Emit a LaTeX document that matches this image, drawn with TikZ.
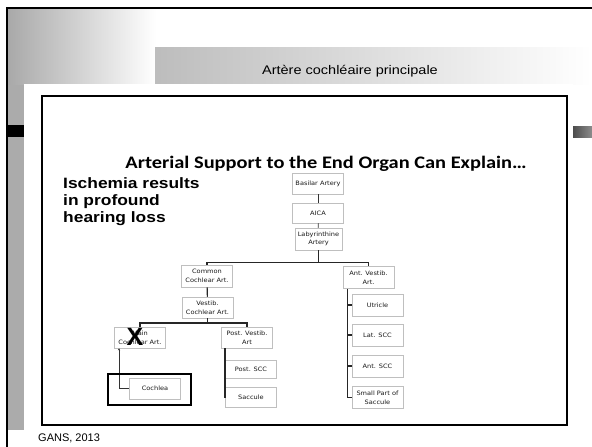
\documentclass[tikz,border=0pt]{standalone}
\usepackage{fontspec}
\newfontfamily\arial{Liberation Sans}
\newfontfamily\arialw[FakeStretch=1.16]{Liberation Sans}
\newfontfamily\calib[FakeStretch=1.16]{Carlito}
\newfontfamily\verd[FakeStretch=1.1]{DejaVu Sans}
\usetikzlibrary{shadows,arrows.meta}
\begin{document}
\begin{tikzpicture}[x=1pt,y=-1pt,
  abox/.style={draw=black!25, fill=white, line width=0.5pt, minimum width=51pt, minimum height=21pt,
    inner sep=1pt, align=center, font=\verd\fontsize{6}{8.6}\selectfont, text=black!90,
    drop shadow={shadow xshift=0.8pt, shadow yshift=-0.9pt, opacity=0.35}},
  link/.style={line width=1.1pt, black!85},
  thinlink/.style={line width=0.8pt, black!80}]
\useasboundingbox (0,0) rectangle (592,447);
\fill[white] (0,0) rectangle (592,447);
% slide background
\shade[left color=black!34, right color=white] (7,8) rectangle (156,85);
\fill[black!33] (7,85) rectangle (24,430);
\shade[left color=black!26, right color=white] (155,47) rectangle (592,84);
\fill[white] (24,84) rectangle (573,447);
\fill[black] (7,125) rectangle (24,137);
\shade[left color=black!70, right color=black!45] (573,126) rectangle (592,137);
\draw[line width=2pt] (7,447) -- (7,8) -- (592,8);
\node[font=\arialw\fontsize{12.5}{14}\selectfont, anchor=base, inner sep=0] (band) at (350,74) {Artère cochléaire principale};
% panel frame
\draw[line width=2.5pt] (42,96) rectangle (567,425);
\node[font=\arial\fontsize{11}{13}\selectfont, anchor=base west, inner sep=0] (gans) at (38,441) {GANS, 2013};
% titles
\node[font=\calib\bfseries\fontsize{17.6}{19}\selectfont, anchor=base, inner sep=0] (title) at (326,168) {Arterial Support to the End Organ Can Explain\dots};
\node[font=\arialw\bfseries\fontsize{15}{17}\selectfont, anchor=base west, inner sep=0] (l1) at (63,188) {Ischemia results};
\node[font=\arialw\bfseries\fontsize{15}{17}\selectfont, anchor=base west, inner sep=0] (l2) at (63,205) {in profound};
\node[font=\arialw\bfseries\fontsize{15}{17}\selectfont, anchor=base west, inner sep=0] (l3) at (63,222) {hearing loss};
% boxes
\node[abox] (bas) at (318,183.5) {Basilar Artery};
\node[abox, minimum height=20pt] (aica) at (318,213) {AICA};
\node[abox, minimum width=47pt, minimum height=22pt] (lab) at (318.5,239) {Labyrinthine\\Artery};
\node[abox, minimum height=22pt] (com) at (207,276) {Common\\Cochlear Art.};
\node[abox, minimum height=21pt] (vc) at (207.5,307.5) {Vestib.\\Cochlear Art.};
\node[abox] (main) at (140,337.5) {Main\\Cochlear Art.};
\node[abox] (pv) at (247,337.5) {Post. Vestib.\\Art};
\node[abox, minimum height=18pt] (psc) at (251,369) {Post. SCC};
\node[abox, minimum height=20pt] (sac) at (251,397) {Saccule};
\node[abox] (coch) at (155,388.5) {Cochlea};
\node[abox, minimum height=22pt] (ant) at (368.5,277.5) {Ant. Vestib.\\Art.};
\node[abox, minimum height=22pt] (utr) at (377.5,305) {Utricle};
\node[abox, minimum height=22pt] (lat) at (377.5,335) {Lat. SCC};
\node[abox, minimum height=22pt] (asc) at (377.5,366) {Ant. SCC};
\node[abox, minimum height=22pt] (spart) at (377.5,397.5) {Small Part of\\Saccule};
% connectors
\draw[thinlink] (bas) -- (aica);
\draw[thinlink] (aica) -- (lab);
\coordinate (j1) at (318.5,262.5);
\draw[link] (lab.south) -- (j1);
\draw[link] (com.north) |- (j1) -| (ant.north);
\draw[link] (com) -- (vc);
\coordinate (j2) at (207.5,323);
\draw[link] (vc.south) -- (j2);
\draw[link] (main.north) |- (j2) -| (pv.north);
\draw[thinlink, {Stealth[length=2.2pt,width=2.2pt]}-] ([xshift=-21pt]main.south) |- (coch.west);
\coordinate (pvsp) at ([xshift=-22pt]pv.south);
\draw[link] (pvsp) |- (sac.west);
\draw[link] (psc.west) -- (psc.west -| pvsp);
\coordinate (antsp) at ([xshift=-21pt]ant.south);
\draw[link] (antsp) |- (spart.west);
\draw[link] (utr.west) -- (utr.west -| antsp);
\draw[link] (lat.west) -- (lat.west -| antsp);
\draw[link] (asc.west) -- (asc.west -| antsp);
% highlight and cross
\node[draw, line width=2.3pt, minimum width=83pt, minimum height=31pt, inner sep=0] (hl) at (149.5,389.5) {};
\node[font=\arial\bfseries\fontsize{25}{25}\selectfont, inner sep=0] (xm) at (135,337) {X};
\end{tikzpicture}
\end{document}
